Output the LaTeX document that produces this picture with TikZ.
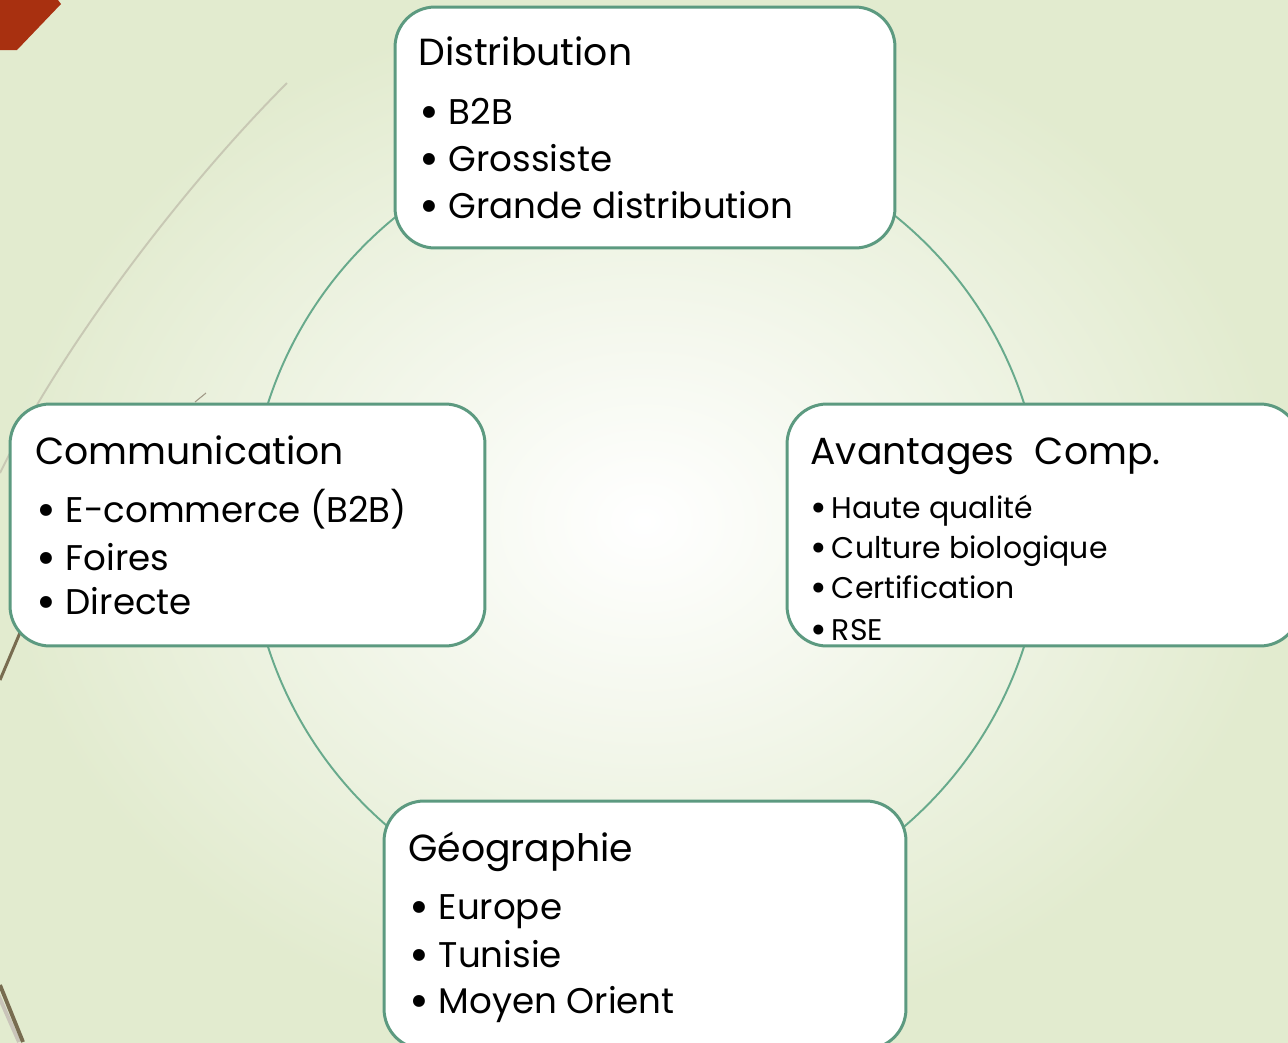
\documentclass[tikz,border=0pt]{standalone}
\usepackage{graphicx}
\usepackage{fontspec}
\setmainfont{Poppins}

\definecolor{boxgreen}{RGB}{92,154,128}
\definecolor{ringgreen}{RGB}{104,170,140}
\definecolor{bgout}{RGB}{226,235,207}
\definecolor{rust}{RGB}{168,48,16}
\definecolor{wisp}{RGB}{200,200,180}
\definecolor{stem}{RGB}{120,108,80}

\newcommand\blt{\raisebox{-0.22ex}{\scalebox{1.35}{\textbullet}}}

\tikzset{
  box/.style={draw=boxgreen, line width=1.7pt, fill=white, rounded corners=0.8cm, inner sep=0pt},
  ring/.style={draw=ringgreen, line width=1.1pt},
  head/.style={anchor=base west, inner sep=0pt, font=\fontsize{21.5}{26}\selectfont},
  item/.style={anchor=base west, inner sep=0pt, font=\fontsize{20.3}{24}\selectfont},
  smallitem/.style={anchor=base west, inner sep=0pt, font=\fontsize{17}{20}\selectfont},
}

\begin{document}
\begin{tikzpicture}[x=0.02cm, y=-0.02cm]
				\useasboundingbox (0, 0) rectangle (1288, 1042);
				% Background and theme strokes:
				\shade[inner color=white, outer color=bgout] (0, 0) rectangle (1288, 1042);
				\fill[rust] (0, 0) -- (58, 0) -- (61, 4) -- (17, 50) -- (0, 50) -- cycle;
				\draw[wisp, line width=1.1pt] (287, 83) .. controls (180, 190) and (60, 350) .. (0, 473);
				\draw[stem!70, line width=0.6pt] (195, 402) -- (206, 393);
				\draw[stem, line width=1.7pt] (22, 628) -- (0, 680);
				\draw[stem!40, line width=2.2pt] (-3, 992) -- (19, 1042);
				\draw[stem, line width=2.2pt] (0, 985) -- (23, 1042);
				% Cycle behind the boxes:
				\coordinate (hub) at (646, 525);
				\draw[ring] (hub) circle (397);
				% Boxes:
				\node[box, minimum width=10cm, minimum height=4.82cm] (dist) at (645, 127.5) {};
				\node[box, minimum width=9.5cm, minimum height=4.84cm] (comm) at (247.5, 525) {};
				\node[box, minimum width=10.26cm, minimum height=4.84cm] (avant) at (1043.5, 525) {};
				\node[box, minimum width=10.44cm, minimum height=4.96cm] (geo) at (645, 925) {};
				% Texts:
				\node[head] (distT) at (418, 65) {Distribution};
				\node[item] (dist1) at (419, 124) {\blt\ B2B};
				\node[item] (dist2) at (419, 171) {\blt\ Grossiste};
				\node[item] (dist3) at (419, 218) {\blt\ Grande distribution};
				\node[head] (commT) at (35, 464) {Communication};
				\node[item] (comm1) at (36, 522) {\blt\ E-commerce (B2B)};
				\node[item] (comm2) at (36, 570) {\blt\ Foires};
				\node[item] (comm3) at (36, 614) {\blt\ Directe};
				\node[head] (avantT) at (810, 464) {Avantages\ \ Comp.};
				\node[smallitem] (avant1) at (810, 518) {\blt\,Haute qualité};
				\node[smallitem] (avant2) at (810, 558) {\blt\,Culture biologique};
				\node[smallitem] (avant3) at (810, 598) {\blt\,Certification};
				\node[smallitem] (avant4) at (810, 640) {\blt\,RSE};
				\node[head] (geoT) at (408, 861) {Géographie};
				\node[item] (geo1) at (409, 919) {\blt\ Europe};
				\node[item] (geo2) at (409, 967) {\blt\ Tunisie};
				\node[item] (geo3) at (409, 1013) {\blt\ Moyen Orient};
			\end{tikzpicture}
\end{document}
